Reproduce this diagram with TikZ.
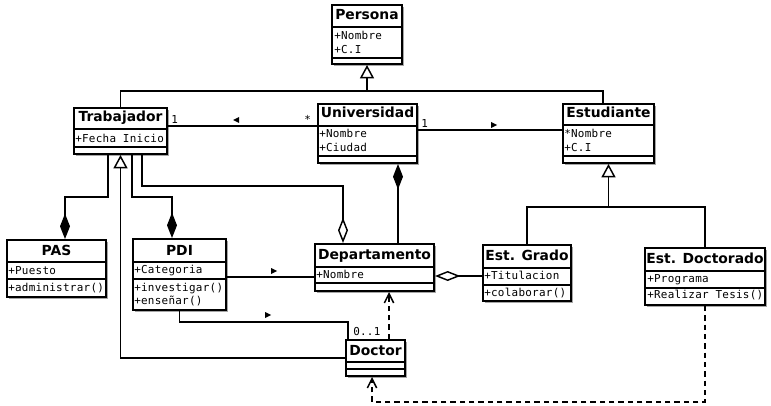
\documentclass[tikz,border=0pt]{standalone}
\usepackage{fontspec}
\setmainfont{DejaVu Sans}
\newfontfamily\umlmono[LetterSpace=2.5]{DejaVu Sans Mono}
\usetikzlibrary{arrows.meta,shadows}

\tikzset{
  classbox/.style 2 args={draw, line width=1.5pt, fill=white, inner sep=0pt, anchor=north west,
    minimum width=#1*0.75pt, minimum height=#2*0.75pt,
    drop shadow={shadow xshift=1.5pt, shadow yshift=-1.5pt, opacity=.35, fill=black}},
  classname/.style={font=\bfseries\fontsize{10.4}{12}\selectfont, inner sep=0pt, anchor=base},
  member/.style={font=\umlmono\fontsize{8.2}{10}\selectfont, inner sep=0pt, anchor=base west},
  divider/.style={line width=1.5pt},
  link/.style={line width=1.1pt},
  inherit/.style={link, -{Triangle[open, length=10pt, width=10.5pt, fill=white]}},
  composeend/.style={link, -{Diamond[length=19pt, width=7.5pt]}},
  composestart/.style={link, {Diamond[length=19pt, width=7.5pt]}-},
  aggregend/.style={link, -{Diamond[open, length=19pt, width=7.5pt, fill=white]}},
  aggregstart/.style={link, {Diamond[open, length=19pt, width=7.5pt, fill=white]}-},
  uses/.style={link, dash pattern=on 4pt off 3pt, -{Straight Barb[length=7pt, width=7pt]}}
}

\begin{document}
\begin{tikzpicture}[x=0.75pt,y=0.75pt,yscale=-1,xscale=1]
\useasboundingbox (0,0) rectangle (771,406);

% boxes
\node[classbox={70}{59}] (persona) at (331,4) {};
\node[classbox={93}{46}] (trab) at (73,107) {};
\node[classbox={99}{59}] (uni) at (317,103) {};
\node[classbox={91}{59}] (est) at (562,103) {};
\node[classbox={99}{57}] (pas) at (6,239) {};
\node[classbox={93}{71}] (pdi) at (132,238) {};
\node[classbox={119}{47}] (dep) at (314,243) {};
\node[classbox={88}{56}] (grado) at (482,244) {};
\node[classbox={120}{57}] (doct) at (644,247) {};
\node[classbox={59}{36}] (doctor) at (345,339) {};

% compartments
\draw[divider] (persona.west |- 0,27) -- (persona.east |- 0,27);
\draw[divider] (persona.west |- 0,58) -- (persona.east |- 0,58);
\draw[divider] (trab.west |- 0,129) -- (trab.east |- 0,129);
\draw[divider] (trab.west |- 0,147) -- (trab.east |- 0,147);
\draw[divider] (uni.west |- 0,126) -- (uni.east |- 0,126);
\draw[divider] (uni.west |- 0,156) -- (uni.east |- 0,156);
\draw[divider] (est.west |- 0,125) -- (est.east |- 0,125);
\draw[divider] (est.west |- 0,156) -- (est.east |- 0,156);
\draw[divider] (pas.west |- 0,262) -- (pas.east |- 0,262);
\draw[divider] (pas.west |- 0,279) -- (pas.east |- 0,279);
\draw[divider] (pdi.west |- 0,262) -- (pdi.east |- 0,262);
\draw[divider] (pdi.west |- 0,279) -- (pdi.east |- 0,279);
\draw[divider] (dep.west |- 0,267) -- (dep.east |- 0,267);
\draw[divider] (dep.west |- 0,283) -- (dep.east |- 0,283);
\draw[divider] (grado.west |- 0,268) -- (grado.east |- 0,268);
\draw[divider] (grado.west |- 0,285) -- (grado.east |- 0,285);
\draw[divider] (doct.west |- 0,271) -- (doct.east |- 0,271);
\draw[divider] (doct.west |- 0,288) -- (doct.east |- 0,288);
\draw[divider] (doctor.west |- 0,362) -- (doctor.east |- 0,362);
\draw[divider] (doctor.west |- 0,369) -- (doctor.east |- 0,369);

% names
\node[classname] (personaN) at (persona.north |- 0,20) {Persona};
\node[classname] (trabN) at (trab.north |- 0,122) {Trabajador};
\node[classname] (uniN) at (uni.north |- 0,118) {Universidad};
\node[classname] (estN) at (est.north |- 0,118) {Estudiante};
\node[classname] (pasN) at (pas.north |- 0,255) {PAS};
\node[classname] (pdiN) at (pdi.north |- 0,255) {PDI};
\node[classname] (depN) at (dep.north |- 0,259) {Departamento};
\node[classname] (gradoN) at (grado.north |- 0,260) {Est. Grado};
\node[classname] (doctN) at (doct.north |- 0,263) {Est. Doctorado};
\node[classname] (doctorN) at (doctor.north |- 0,355) {Doctor};

% members
\node[member] (personaA1) at (334,39.5) {+Nombre};
\node[member] (personaA2) at (334,53.5) {+C.I};
\node[member] (trabA1) at (75,143) {+Fecha Inicio};
\node[member] (uniA1) at (319,138) {+Nombre};
\node[member] (uniA2) at (319,152) {+Ciudad};
\node[member] (estA1) at (564,137.5) {*Nombre};
\node[member] (estA2) at (564,151.5) {+C.I};
\node[member] (pasA1) at (8,274) {+Puesto};
\node[member] (pasM1) at (8,291.5) {+administrar()};
\node[member] (pdiA1) at (134,273.5) {+Categoria};
\node[member] (pdiM1) at (134,291) {+investigar()};
\node[member] (pdiM2) at (134,304) {+enseñar()};
\node[member] (depA1) at (316,278.5) {+Nombre};
\node[member] (gradoA1) at (484,279) {+Titulacion};
\node[member] (gradoM1) at (484,296.5) {+colaborar()};
\node[member] (doctA1) at (647,282.5) {+Programa};
\node[member] (doctM1) at (647,298.5) {+Realizar Tesis()};

% generalizations
\coordinate (jP) at (persona.south |- 0,91);
\draw[inherit] (jP) -- (persona.south);
\draw[link] (trab.north) |- (jP) -| (est.north -| 603,0);
\coordinate (jE) at (est.south |- 0,207);
\draw[inherit] (jE) -- (est.south);
\draw[link] (grado.north) |- (jE) -| (doct.north);
\draw[inherit] (doctor.west) -| (trab.south);

% compositions and aggregations
\draw[composeend] (trab.south -| 108,0) |- (65,197) -- (pas.north -| 65,0);
\draw[composeend] (trab.south -| 132,0) |- (172,197) -- (pdi.north -| 172,0);
\draw[aggregend] (trab.south -| 142,0) |- (343,186) -- (dep.north -| 343,0);
\draw[composestart] (uni.south -| 398,0) -- (dep.north -| 398,0);
\draw[aggregstart] (dep.east |- 0,276) -- (grado.west |- 0,276);

% associations
\draw[link] (trab.east |- 0,126) -- (uni.west |- 0,126);
\draw[link] (uni.east |- 0,130) -- (est.west |- 0,130);
\draw[link] (pdi.east |- 0,277) -- (dep.west |- 0,277);
\draw[link] (pdi.south) |- (348,322) -- (doctor.north -| 348,0);
\fill (233,120) -- (239,117) -- (239,123) -- cycle;
\fill (497,125) -- (491,122) -- (491,128) -- cycle;
\fill (277,271) -- (271,268) -- (271,274) -- cycle;
\fill (271,315) -- (265,312) -- (265,318) -- cycle;
\node[member] (m1) at (171,123.5) {1};
\node[member] (m2) at (304,124) {*};
\node[member] (m3) at (421,128) {1};
\node[member] (m4) at (353,335) {0..1};

% dependencies
\draw[uses] (doctor.north -| 389,0) -- (dep.south -| 389,0);
\draw[uses] (doct.south) |- (372,402) -- (doctor.south -| 372,0);
\end{tikzpicture}
\end{document}
